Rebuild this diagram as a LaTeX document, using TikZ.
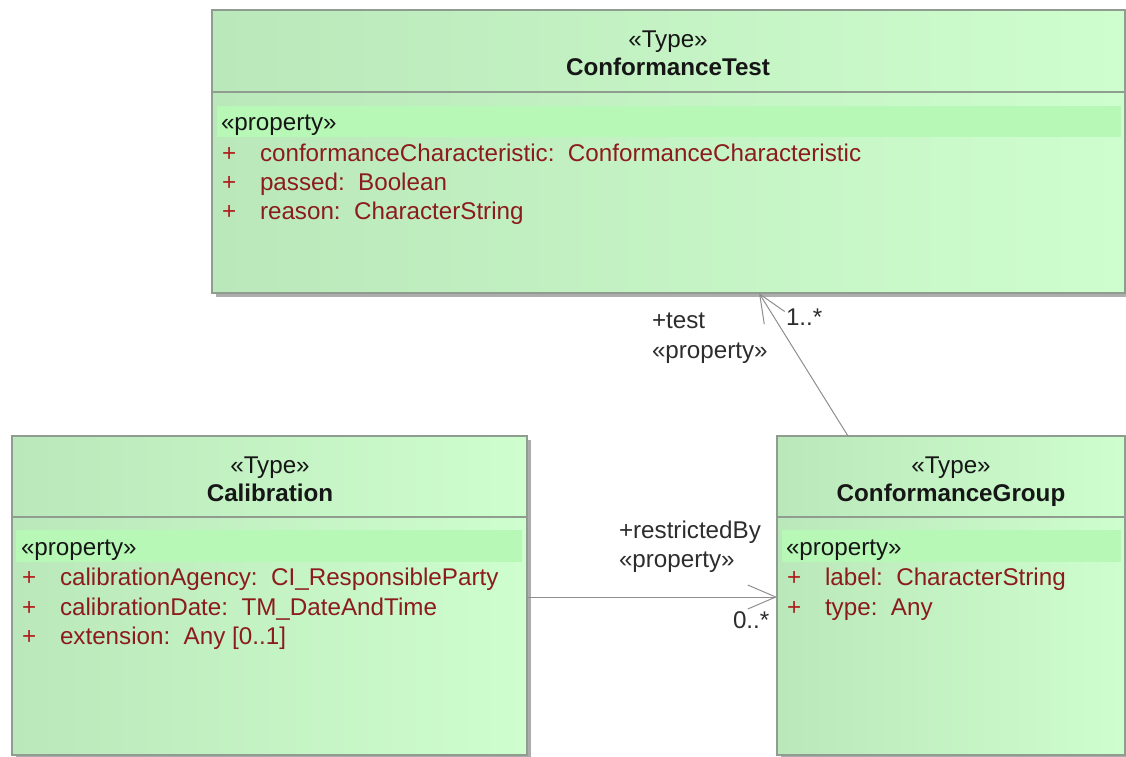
\documentclass[tikz,border=0pt]{standalone}
\usepackage{fontspec}
\setmainfont{Liberation Sans}
\usetikzlibrary{arrows.meta,shadows}

\definecolor{fillL}{HTML}{BAE8BA}
\definecolor{fillM}{HTML}{C9F8C9}
\definecolor{fillR}{HTML}{CEFDCE}
\definecolor{bandC}{HTML}{B7F8B7}
\definecolor{edgeC}{HTML}{919C91}
\definecolor{attrC}{HTML}{8C1C1C}
\definecolor{plusC}{HTML}{B01E1E}
\definecolor{connC}{HTML}{8E8E8E}
\definecolor{inkC}{HTML}{161616}

\tikzset{
  classbox/.style={draw=edgeC, line width=1.3pt,
    left color=fillL, middle color=fillM, right color=fillR,
    anchor=north west, inner sep=0pt, outer sep=0pt,
    drop shadow={shadow xshift=3.5pt, shadow yshift=-4pt, fill=black!40, opacity=0.8}},
  divider/.style={draw=edgeC, line width=1.2pt},
  band/.style={fill=bandC},
  txt/.style={inner sep=0pt, outer sep=0pt, text=inkC, font=\fontsize{24.2}{29}\selectfont},
  stereo/.style={txt, anchor=base},
  cname/.style={txt, anchor=base, font=\fontsize{24.2}{29}\selectfont\bfseries},
  attr/.style={txt, anchor=base west, text=attrC},
  plus/.style={txt, anchor=base west, text=plusC},
  lbl/.style={txt, anchor=base west, text=inkC!90},
  assoc/.style={draw=connC, line width=1pt,
    -{Straight Barb[length=28pt, width=24pt, line width=1pt]}}
}

\begin{document}
\begin{tikzpicture}[x=1pt, y=-1pt]
\useasboundingbox (0,0) rectangle (1126,756);

% ---- ConformanceTest ----
\node[classbox, minimum width=913pt, minimum height=283pt] (ct) at (212,10) {};
\draw[divider] (212,92) -- (1125,92);
\fill[band] (217,106) rectangle (1121,137);
\node[stereo] (ctst) at (668,47) {«Type»};
\node[cname]  (ctnm) at (668,75) {ConformanceTest};
\node[lbl, text=inkC] (ctpr) at (221,130) {«property»};
\node[plus] (ctp1) at (222,161) {+};
\node[attr] (cta1) at (260,161) {conformanceCharacteristic:\ \ ConformanceCharacteristic};
\node[plus] (ctp2) at (222,190) {+};
\node[attr] (cta2) at (260,190) {passed:\ \ Boolean};
\node[plus] (ctp3) at (222,219) {+};
\node[attr] (cta3) at (260,219) {reason:\ \ CharacterString};

% ---- Calibration ----
\node[classbox, minimum width=515pt, minimum height=319pt] (cal) at (12,436) {};
\draw[divider] (12,517) -- (527,517);
\fill[band] (16,530) rectangle (522,562);
\node[stereo] (calst) at (270,473) {«Type»};
\node[cname]  (calnm) at (270,501) {Calibration};
\node[lbl, text=inkC] (calpr) at (21,555) {«property»};
\node[plus] (calp1) at (22,585) {+};
\node[attr] (cala1) at (60,585) {calibrationAgency:\ \ CI\_ResponsibleParty};
\node[plus] (calp2) at (22,615) {+};
\node[attr] (cala2) at (60,615) {calibrationDate:\ \ TM\_DateAndTime};
\node[plus] (calp3) at (22,644) {+};
\node[attr] (cala3) at (60,644) {extension:\ \ Any [0..1]};

% ---- ConformanceGroup ----
\node[classbox, minimum width=348pt, minimum height=319pt] (cg) at (777,436) {};
\draw[divider] (777,517) -- (1125,517);
\fill[band] (782,530) rectangle (1121,562);
\node[stereo] (cgst) at (951,473) {«Type»};
\node[cname]  (cgnm) at (951,501) {ConformanceGroup};
\node[lbl, text=inkC] (cgpr) at (786,555) {«property»};
\node[plus] (cgp1) at (787,585) {+};
\node[attr] (cga1) at (825,585) {label:\ \ CharacterString};
\node[plus] (cgp2) at (787,615) {+};
\node[attr] (cga2) at (825,615) {type:\ \ Any};

% ---- associations ----
\draw[assoc] ([xshift=71pt]cg.north west) -- ([xshift=547pt]ct.south west);
\node[lbl] (tname) at (652,328) {+test};
\node[lbl] (tster) at (652,358) {«property»};
\node[lbl] (tmult) at (786,325) {1..*};

\draw[assoc] ([yshift=-161pt]cal.north east) -- ([yshift=-161pt]cg.north west);
\node[lbl] (rname) at (619,538) {+restrictedBy};
\node[lbl] (rster) at (619,567) {«property»};
\node[lbl] (rmult) at (733,628) {0..*};
\end{tikzpicture}
\end{document}
